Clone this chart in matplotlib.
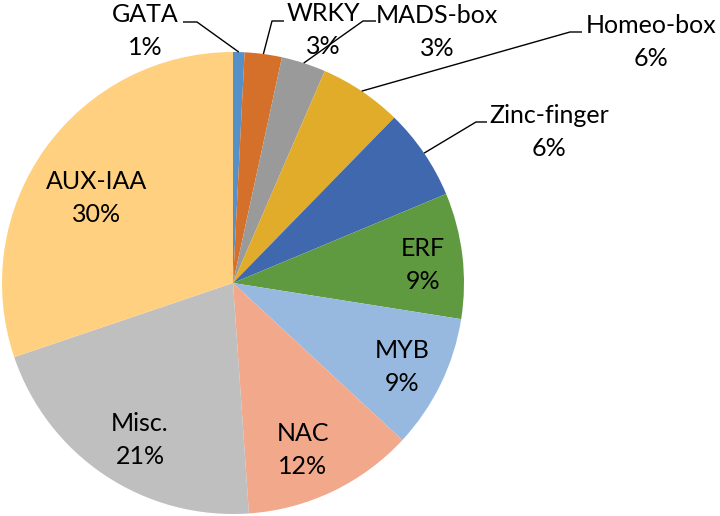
import matplotlib
matplotlib.use("Agg")
import matplotlib.pyplot as plt
import numpy as np

# families, clockwise from 12 o'clock
families = ["GATA", "WRKY", "MADS-box", "Homeo-box", "Zinc-finger",
            "ERF", "MYB", "NAC", "Misc.", "AUX-IAA"]
shares = [0.8, 2.6, 3.1, 5.8, 6.4, 8.8, 9.4, 12.0, 20.9, 30.2]
colors = ["#5590C9", "#D4702A", "#9A9A9A", "#E0AC2A", "#3F68AF",
          "#5F9A41", "#97B9E0", "#F2A88A", "#BFBFBF", "#FFD080"]

W, H = 720, 516
CX, CY, R = 233, 283, 231          # pie centre / radius in pixels (y from top)

# label centre (px, y from top) and leader elbow for outside labels
label_pos = {
    "GATA": (145, 31), "WRKY": (323, 30), "MADS-box": (437, 32),
    "Homeo-box": (651, 42), "Zinc-finger": (549, 132),
    "ERF": (423, 265), "MYB": (402, 367), "NAC": (303, 450),
    "Misc.": (140, 440), "AUX-IAA": (97, 198),
}
leaders = {
    "GATA": [(183, 22), (197, 22)],
    "WRKY": [(284, 21), (272, 21)],
    "MADS-box": [(376, 21), (363, 21)],
    "Homeo-box": [(582, 32), (570, 32)],
    "Zinc-finger": [(487, 122), (476, 122)],
}

plt.rcParams["font.family"] = ["Lato", "DejaVu Sans"]

fig = plt.figure(figsize=(W / 100, H / 100), dpi=100)
ax = fig.add_axes([0, 0, 1, 1])

wedges, _ = ax.pie(shares, colors=colors, startangle=90, counterclock=False,
                   center=(CX, H - CY), radius=R,
                   wedgeprops=dict(linewidth=0))
ax.set_xlim(0, W)
ax.set_ylim(0, H)
ax.set_aspect("equal")
ax.axis("off")

total = sum(shares)
for w, name, v in zip(wedges, families, shares):
    lx, ly = label_pos[name]
    ax.text(lx, H - ly, f"{name}\n{v / total * 100:.0f}%", ha="center",
            va="center", fontsize=18, linespacing=1.55, color="black")
    if name in leaders:
        mid = np.deg2rad((w.theta1 + w.theta2) / 2)
        ex = CX + R * np.cos(mid)
        ey = (H - CY) + R * np.sin(mid)
        pts = [(x, H - y) for x, y in leaders[name]] + [(ex, ey)]
        xs, ys = zip(*pts)
        ax.plot(xs, ys, color="black", linewidth=1.0, solid_capstyle="butt")

fig.savefig("out.png", dpi=100)
